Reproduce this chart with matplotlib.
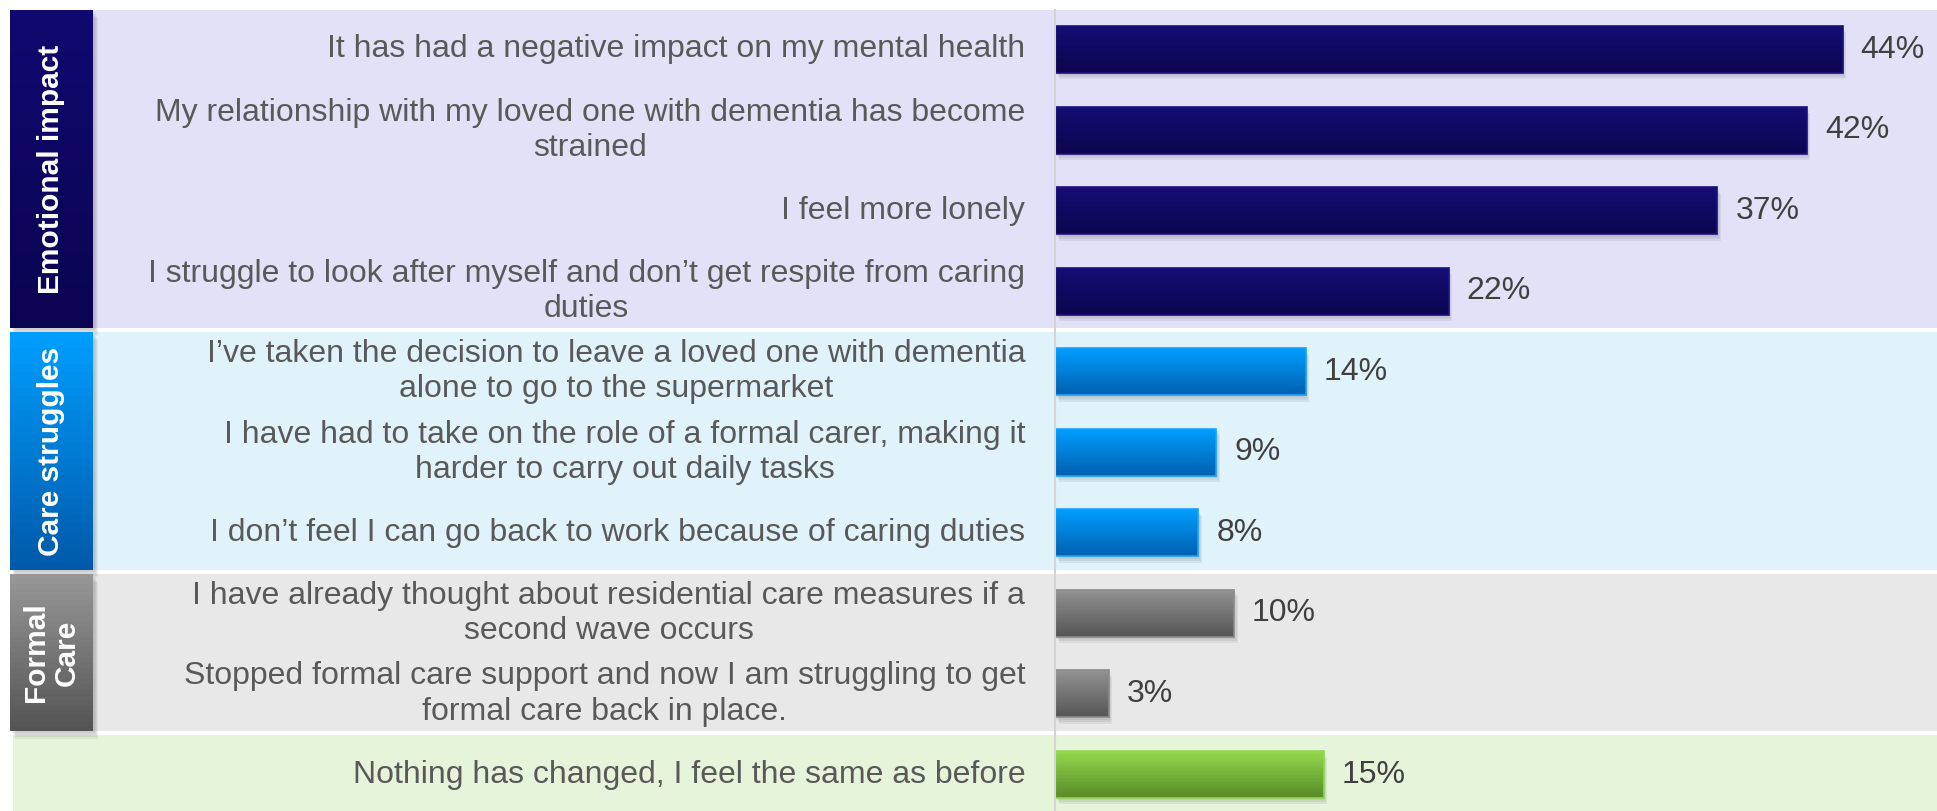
import numpy as np
import matplotlib
matplotlib.use("Agg")
import matplotlib.pyplot as plt
from matplotlib.colors import to_rgb
from matplotlib.patches import Rectangle
from matplotlib.transforms import blended_transform_factory

plt.rcParams["font.family"] = ["Liberation Sans", "DejaVu Sans"]

# ---------------------------------------------------------------------------
# Données
# ---------------------------------------------------------------------------
labels = [
    "It has had a negative impact on my mental health",
    "My relationship with my loved one with dementia has become\nstrained",
    "I feel more lonely",
    "I struggle to look after myself and don\u2019t get respite from caring\nduties",
    "I\u2019ve taken the decision to leave a loved one with dementia\nalone to go to the supermarket",
    "I have had to take on the role of a formal carer, making it\nharder to carry out daily tasks",
    "I don\u2019t feel I can go back to work because of caring duties",
    "I have already thought about residential care measures if a\nsecond wave occurs",
    "Stopped formal care support and now I am struggling to get\nformal care back in place.",
    "Nothing has changed, I feel the same as before",
]
values = [44, 42, 37, 22, 14, 9, 8, 10, 3, 15]

group_names = ["Emotional impact", "Care struggles", "Formal\nCare", None]
group_sizes = [4, 3, 2, 1]

# couleurs par groupe : fond, dégradé barre (haut, bas), dégradé boîte (haut, bas)
group_bg = ["#E3E1F7", "#E0F3FA", "#E8E8E8", "#E6F4DA"]
group_bar = [("#150D74", "#0B054F"), ("#009EFF", "#005FAE"),
             ("#929292", "#545454"), ("#94D94C", "#578A28")]
group_edge = ["#1A1280", "#1AA0FF", "#8A8A8A", "#8ED850"]
group_box = [("#110870", "#0A0450"), ("#009EFF", "#0058A8"),
             ("#989898", "#535353"), None]


def gradient_rect(ax, x, y_top, w, h, top, bottom, transform, zorder, n=30):
    """Remplit un rectangle par tranches horizontales (dégradé vertical)."""
    c0, c1 = np.array(to_rgb(top)), np.array(to_rgb(bottom))
    dh = h / n
    for k in range(n):
        c = c0 + (c1 - c0) * (k + 0.5) / n
        ax.add_patch(Rectangle((x, y_top + k * dh), w, dh * 1.02,
                               transform=transform, facecolor=c,
                               edgecolor="none", zorder=zorder))


fig = plt.figure(figsize=(19.37, 8.11), dpi=100)
ax = fig.add_axes([0, 0, 1, 1])
ax.set_axis_off()

px_per_pct = 17.9
x0_px = 1055
W, H = 1937, 811
xlim = (-x0_px / px_per_pct, (W - x0_px) / px_per_pct)
ystep = 80.56
ylim = ((H - 49.5) / ystep, -49.5 / ystep)
bar_h = 0.583

blend = blended_transform_factory(ax.transAxes, ax.transData)

start = 0
for g, size in enumerate(group_sizes):
    idx = list(range(start, start + size))
    top = idx[0] - 0.49
    bot = idx[-1] + 0.46 if g < len(group_sizes) - 1 else ylim[0] + 0.1

    # bande de fond
    left = 93 / W if group_names[g] else 13 / W
    ax.add_patch(Rectangle((left, top), 1 - left, bot - top, transform=blend,
                           facecolor=group_bg[g], edgecolor="none", zorder=0))

    # boîte de catégorie
    if group_names[g]:
        bx0, bx1 = 10 / W, 93 / W
        for s in range(4):
            ax.add_patch(Rectangle((bx0 + (2 + s) / W, top + 0.02 + 0.025 * s),
                                   bx1 - bx0, bot - top, transform=blend,
                                   facecolor="black", alpha=0.05,
                                   edgecolor="none", zorder=1))
        gradient_rect(ax, bx0, top, bx1 - bx0, bot - top,
                      group_box[g][0], group_box[g][1], blend, 2)
        ax.text((bx0 + bx1) / 2, (top + bot) / 2, group_names[g],
                transform=blend, rotation=90, ha="center", va="center",
                color="white", fontsize=21.5, fontweight="bold",
                multialignment="center", linespacing=1.15, zorder=5)

    # barres
    vals = [values[i] for i in idx]
    for s in range(3):
        ax.barh(np.array(idx) + 0.03 + 0.025 * s, vals, height=bar_h,
                left=0.08 + 0.06 * s, color="black", alpha=0.06, zorder=2)
    bars = ax.barh(idx, vals, height=bar_h, color="none",
                   edgecolor=group_edge[g], linewidth=1.2, zorder=4)
    for b, v, i in zip(bars, vals, idx):
        gradient_rect(ax, 0, i - bar_h / 2, v, bar_h,
                      group_bar[g][0], group_bar[g][1], ax.transData, 3)
        ax.annotate(f"{v}%", (v, i), xytext=(13, 0), textcoords="offset points",
                    ha="left", va="center", fontsize=23, color="#404040",
                    zorder=6)
    start += size

# libellés
for i, lab in enumerate(labels):
    ax.annotate(lab, (0, i), xytext=(-21.5, 0), textcoords="offset points",
                ha="right", va="center", multialignment="center",
                fontsize=23, color="#595959", linespacing=1.22, zorder=6)

# axe vertical
ax.plot([0, 0], [-0.49, ylim[0]], color="#D4D4D4", linewidth=1.5, zorder=5)

ax.set_xlim(*xlim)
ax.set_ylim(*ylim)

fig.savefig("out.png", dpi=100)
